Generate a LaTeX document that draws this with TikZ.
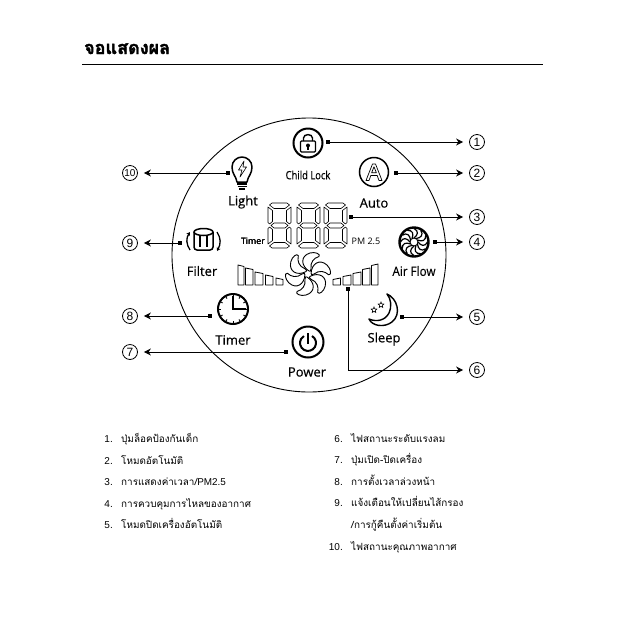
\documentclass[tikz,border=0pt]{standalone}
\usepackage{fontspec}
\setmainfont{Liberation Sans}
\newfontfamily\thaifont[Script=Thai]{Loma}
\newfontfamily\headfont[Script=Thai,BoldFeatures={FakeBold=2}]{Loma}
\newfontfamily\panelfont[FakeBold=0.4]{Open Sans}
\newfontfamily\smallfont{Open Sans}
\usetikzlibrary{positioning,arrows.meta,shapes.geometric}

\tikzset{
  tagdot/.style={fill=black,inner sep=0pt,minimum size=4pt},
  numtag/.style={draw,circle,line width=0.8pt,inner sep=0pt,minimum size=15pt,font=\fontsize{12}{12}\selectfont},
  tagline/.style={line width=1pt,-{Stealth[length=7pt,width=7pt]},shorten >=6pt},
  panellabel/.style={font=\panelfont\fontsize{13}{13}\selectfont},
  iconring/.style={draw,circle,line width=2pt,inner sep=0pt,minimum size=29pt},
  listtext/.style={anchor=base west,inner sep=0pt,font=\thaifont\fontsize{9.9}{9.9}\selectfont},
  listnum/.style={anchor=base east,inner sep=0pt,font=\fontsize{10}{10}\selectfont},
  lcdline/.style={line width=0.6pt,line join=round},
  barline/.style={line width=0.8pt,line join=round}
}

% one LCD digit, #1 = left edge
\newcommand{\lcddigit}[1]{
  \begin{scope}[shift={(#1,203)},lcdline]
    \draw (4,0) -- (19,0) -- (21.5,2) -- (17,5.5) -- (6,5.5) -- (1.5,2) -- cycle;
    \draw (0,4) -- (4.5,7.5) -- (4.5,18.5) -- (1.5,21) -- (0,19.5) -- cycle;
    \draw (23,4) -- (18.5,7.5) -- (18.5,18.5) -- (21.5,21) -- (23,19.5) -- cycle;
    \draw (3,22.5) -- (6,20) -- (17,20) -- (20,22.5) -- (17,25) -- (6,25) -- cycle;
    \draw (0,41) -- (4.5,37.5) -- (4.5,26.5) -- (1.5,24) -- (0,25.5) -- cycle;
    \draw (23,41) -- (18.5,37.5) -- (18.5,26.5) -- (21.5,24) -- (23,25.5) -- cycle;
    \draw (4,45) -- (19,45) -- (21.5,43) -- (17,39.5) -- (6,39.5) -- (1.5,43) -- cycle;
  \end{scope}
}

\begin{document}
\begin{tikzpicture}[x=1pt, y=-1pt]
  \useasboundingbox (0,0) rectangle (641,641);
  % heading
  \node[anchor=base west,inner sep=0pt,font=\headfont\bfseries\fontsize{18}{18}\selectfont] (heading) at (84,54) {จอแสดงผล};
  \coordinate (ruleL) at (82,64);
  \coordinate (ruleR) at (543,64);
  \draw[line width=1pt] (ruleL) -- (ruleR);

  % panel
  \node[draw,circle,line width=0.9pt,inner sep=0pt,minimum size=274pt] (panel) at (309,255) {};

  % child lock
  \node[iconring] (lockring) at (308,143) {};
  \draw[line width=1.4pt,rounded corners=1pt] (300.5,141) rectangle (315.5,152);
  \draw[line width=1.4pt] (303.5,141) -- (303.5,138) .. controls (303.5,133.5) and (312.5,133.5) .. (312.5,138) -- (312.5,141);
  \fill (308,145.5) circle (2);
  \fill (307.2,146) rectangle (308.8,150);
  \node[panellabel,font=\panelfont\fontsize{11.5}{11.5}\selectfont,xscale=0.82] (locktext) at (308,175) {Child Lock};

  % auto
  \node[iconring,line width=1.5pt] (autoring) at (374,172) {};
  \draw[line width=0.7pt,line join=round] (366,180.5) -- (372.5,164) -- (375.5,164) -- (382,180.5) -- (379,180.5) -- (377.2,175.5) -- (370.8,175.5) -- (369,180.5) -- cycle;
  \draw[line width=0.7pt,line join=round] (371.6,172.8) -- (376.4,172.8) -- (374,166.8) -- cycle;
  \node[panellabel] (autotext) at (374,203) {Auto};

  % light
  \draw[line width=1.5pt,line join=round] (237,182) .. controls (236,176) and (232,174) .. (232,167) .. controls (232,161) and (237,157) .. (242,157) .. controls (247,157) and (252,161) .. (252,167) .. controls (252,174) and (248,176) .. (247,182) -- cycle;
  \draw[line width=0.6pt,line join=round] (244,161) -- (238.5,170) -- (242,170) -- (240,177) -- (246.5,167) -- (243,167) -- cycle;
  \foreach \y/\w in {184/5,186.5/4.5,189/3}
    \draw[line width=1.6pt] (242-\w,\y) -- (242+\w,\y);
  \node[panellabel] (lighttext) at (243,202) {Light};

  % lcd
  \foreach \x in {268,297,324}
    \lcddigit{\x}
  \node[font=\smallfont\fontsize{8.8}{8.8}\selectfont] (timersmall) at (253,241) {Timer};
  \node[font=\smallfont\fontsize{9}{9}\selectfont] (pmtext) at (366,241) {PM 2.5};

  % filter
  \draw[line width=1.5pt,rounded corners=3pt] (194,232) -- (194,250) -- (213,250) -- (213,232);
  \draw[line width=1.5pt] (203.5,232) ellipse (9.5 and 3.5);
  \draw[line width=2pt] (200,236) -- (200,247);
  \draw[line width=2pt] (207,236) -- (207,247);
  \draw[line width=1.3pt,-{Stealth[length=3.5pt,width=4pt]}] (190,250) .. controls (186,244) and (186,238) .. (190,232);
  \draw[line width=1.3pt,-{Stealth[length=3.5pt,width=4pt]}] (217,232) .. controls (221,238) and (221,244) .. (217,251);
  \node[panellabel] (filtertext) at (202,271) {Filter};

  % air flow
  \node[iconring,line width=2.4pt] (flowring) at (414,242) {};
  \node[draw,circle,line width=0.9pt,inner sep=0pt,minimum size=8pt] (flowhub) at (414,242) {};
  \foreach \a in {0,30,...,330}
    \draw[rotate around={\a:(414,242)},line width=1.2pt] (414,238) .. controls (418,235) and (419,231) .. (414,228.5);
  \node[panellabel,xscale=0.9] (flowtext) at (414,271) {Air Flow};

  % fan in the middle
  \foreach \a in {0,60,...,300}
    \draw[shift={(308,274)},rotate=\a,line width=0.9pt,line join=round] (1,-3) .. controls (-7,-8) and (-8,-18) .. (2,-21) .. controls (7,-22.5) and (13,-20) .. (11,-17.5) .. controls (6,-16) and (2,-12) .. (3,-5) .. controls (3,-3) and (2,-2) .. (1,-3) -- cycle;

  % level bars
  \foreach \xa/\xb/\t in {333/340.5/278,343/351/275,353/361/272,362.5/370/268,371.5/378/264}
    \draw[barline] (\xa,285) -- (\xa,\t+1.5) -- (\xb,\t) -- (\xb,285) -- cycle;
  \foreach \xa/\xb/\t in {283/276/278,273/265.5/275,263/255/272,253/245.5/268,244/238/265}
    \draw[barline] (\xa,285) -- (\xa,\t+1.5) -- (\xb,\t) -- (\xb,285) -- cycle;

  % timer
  \node[iconring,minimum size=30pt] (clockring) at (233,309) {};
  \foreach \a in {0,30,...,330}
    \draw[rotate around={\a:(233,309)},line width=0.9pt] (233,294.5) -- (233,297);
  \draw[line width=2.2pt,line join=miter] (233,296) -- (233,309) -- (246,309);
  \node[panellabel] (timertext) at (233,340) {Timer};

  % power
  \node[iconring,minimum size=31pt] (powerring) at (308,342) {};
  \draw[line width=2pt] (312,336) arc (-60:240:8);
  \draw[line width=2pt] (308,333) -- (308,344);
  \node[panellabel] (powertext) at (307,372) {Power};

  % sleep
  \draw[line width=1.4pt,line join=round] (387,294) .. controls (397,298) and (402,314) .. (392,322) .. controls (384,328) and (372,326) .. (369,319) .. controls (376,322) and (385,321) .. (389,313) .. controls (392,306) and (391,299) .. (387,294) -- cycle;
  \node[draw,star,star points=5,star point ratio=2.2,line width=0.6pt,inner sep=0pt,minimum size=6pt] (stara) at (374,310) {};
  \node[draw,star,star points=5,star point ratio=2.2,line width=0.6pt,inner sep=0pt,minimum size=6pt] (starb) at (381,305) {};
  \node[panellabel] (sleeptext) at (384,339) {Sleep};

  % connectors
  \foreach \n/\x/\y in {1/328/142,2/396/173,3/351/217,4/435/242,5/402/317,6/348/289}
    \node[tagdot] (dot\n) at (\x,\y) {};
  \foreach \n/\y in {1/142,2/173,3/217,4/242,5/317,6/370}
    \node[numtag] (tag\n) at (477,\y) {\n};
  \foreach \n/\x/\y in {7/286/352,8/210/316,9/180/243,10/228/173}
    \node[tagdot] (dot\n) at (\x,\y) {};
  \foreach \n/\y in {7/352,8/316,9/243}
    \node[numtag] (tag\n) at (130,\y) {\n};
  \node[numtag,font=\fontsize{10}{10}\selectfont] (tag10) at (130,173) {10};
  \foreach \n in {1,2,3,4,5,7,8,9,10}
    \draw[tagline] (dot\n) -- (tag\n);
  \draw[tagline] (dot6) |- (tag6);

  % legend
  \foreach \n/\y/\t in {1/442/ปุ่มล็อคป้องกันเด็ก,2/464/โหมดอัตโนมัติ,4/507/การควบคุมการไหลของอากาศ,5/528/โหมดปิดเครื่องอัตโนมัติ}{
    \node[listnum] (num\n) at (113,\y) {\n.};
    \node[listtext] (txt\n) at (121,\y) {\t};
  }
  \node[listnum] (num3) at (113,485) {3.};
  \node[listtext] (txt3) at (121,485) {การแสดงค่าเวลา/{\rmfamily PM2.5}};
  \foreach \n/\y/\t in {6/442/ไฟสถานะระดับแรงลม,7/463/ปุ่มเปิด-ปิดเครื่อง,8/485/การตั้งเวลาล่วงหน้า,9/506/แจ้งเตือนให้เปลี่ยนไส้กรอง,10/550/ไฟสถานะคุณภาพอากาศ}{
    \node[listnum] (num\n) at (343,\y) {\n.};
    \node[listtext] (txt\n) at (351,\y) {\t};
  }
  \node[listtext] (txt9b) at (351,528) {/การกู้คืนตั้งค่าเริ่มต้น};
\end{tikzpicture}
\end{document}
